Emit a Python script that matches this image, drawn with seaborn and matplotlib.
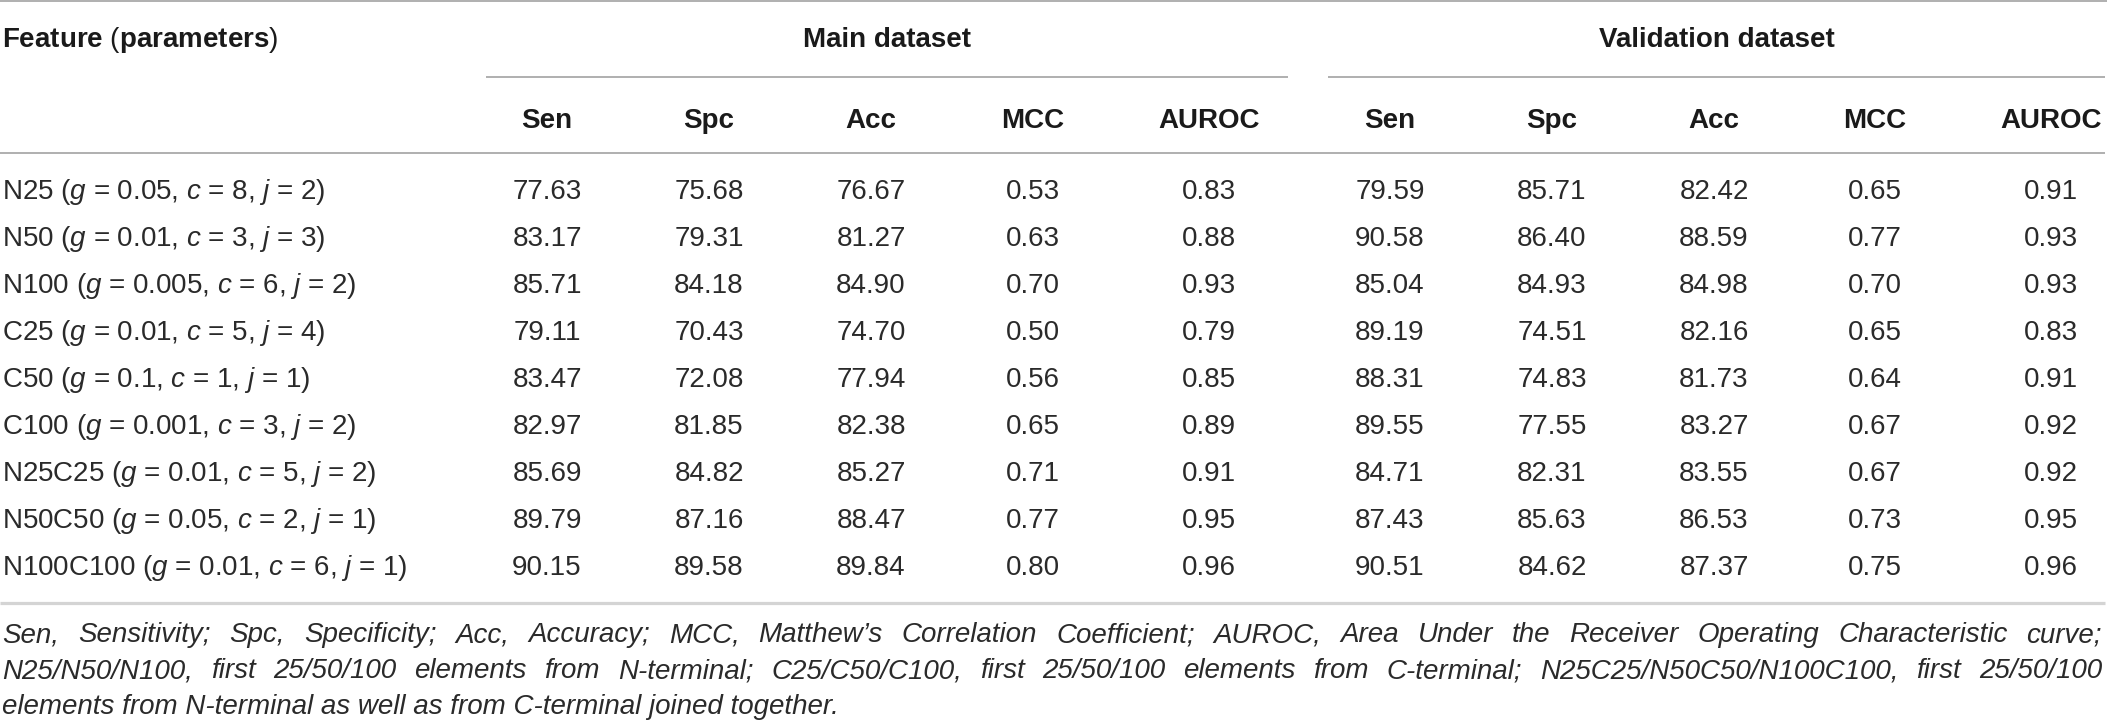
import matplotlib
matplotlib.use("Agg")
import matplotlib.pyplot as plt
import seaborn as sns
import pandas as pd

# ---------------- data ----------------
features = ["N25", "N50", "N100", "C25", "C50", "C100", "N25C25", "N50C50", "N100C100"]
param_g = ["0.05", "0.01", "0.005", "0.01", "0.1", "0.001", "0.01", "0.05", "0.01"]
param_c = [8, 3, 6, 5, 1, 3, 5, 2, 6]
param_j = [2, 3, 2, 4, 1, 2, 2, 1, 1]

main_sen = [77.63, 83.17, 85.71, 79.11, 83.47, 82.97, 85.69, 89.79, 90.15]
main_spc = [75.68, 79.31, 84.18, 70.43, 72.08, 81.85, 84.82, 87.16, 89.58]
main_acc = [76.67, 81.27, 84.90, 74.70, 77.94, 82.38, 85.27, 88.47, 89.84]
main_mcc = [0.53, 0.63, 0.70, 0.50, 0.56, 0.65, 0.71, 0.77, 0.80]
main_auroc = [0.83, 0.88, 0.93, 0.79, 0.85, 0.89, 0.91, 0.95, 0.96]

val_sen = [79.59, 90.58, 85.04, 89.19, 88.31, 89.55, 84.71, 87.43, 90.51]
val_spc = [85.71, 86.40, 84.93, 74.51, 74.83, 77.55, 82.31, 85.63, 84.62]
val_acc = [82.42, 88.59, 84.98, 82.16, 81.73, 83.27, 83.55, 86.53, 87.37]
val_mcc = [0.65, 0.77, 0.70, 0.65, 0.64, 0.67, 0.67, 0.73, 0.75]
val_auroc = [0.91, 0.93, 0.93, 0.83, 0.91, 0.92, 0.92, 0.95, 0.96]

metric_labels = ["Sen", "Spc", "Acc", "MCC", "AUROC"]
group_labels = ["Main dataset", "Validation dataset"]
first_header = r"$\mathbf{Feature}$ ($\mathbf{parameters}$)"

footnote_lines = [
    "Sen, Sensitivity; Spc, Specificity; Acc, Accuracy; MCC, Matthew\u2019s Correlation Coefficient; "
    "AUROC, Area Under the Receiver Operating Characteristic curve;",
    "N25/N50/N100, first 25/50/100 elements from N-terminal; C25/C50/C100, first 25/50/100 elements "
    "from C-terminal; N25C25/N50C50/N100C100, first 25/50/100",
    "elements from N-terminal as well as from C-terminal joined together.",
]

main_df = pd.DataFrame({"Sen": main_sen, "Spc": main_spc, "Acc": main_acc,
                        "MCC": main_mcc, "AUROC": main_auroc})
val_df = pd.DataFrame({"Sen": val_sen, "Spc": val_spc, "Acc": val_acc,
                       "MCC": val_mcc, "AUROC": val_auroc})

# ---------------- style ----------------
sns.set_theme(style="white")
plt.rcParams["font.family"] = ["Liberation Sans", "DejaVu Sans"]
plt.rcParams["mathtext.fontset"] = "custom"
plt.rcParams["mathtext.rm"] = "Liberation Sans"
plt.rcParams["mathtext.it"] = "Liberation Sans:italic"
plt.rcParams["mathtext.bf"] = "Liberation Sans:bold"

W, H = 2107, 721
FS = 20
TXT = "#2a2a2a"
HDR = "#1a1a1a"
RULE = "#9a9a9a"

fig = plt.figure(figsize=(W / 100, H / 100), dpi=100)
fig.patch.set_facecolor("white")
ax = fig.add_axes([0, 0, 1, 1])
ax.set_xlim(0, W)
ax.set_ylim(H, 0)
ax.axis("off")

# layout
main_x = [547, 709, 871, 1033, 1209]
val_x = [1390, 1552, 1714, 1875, 2051]
row_base0 = 199
row_step = 47

# rules
ax.plot([0, W], [1.2, 1.2], color=RULE, lw=1.1, solid_capstyle="butt")
ax.plot([486, 1288], [77, 77], color=RULE, lw=1.1, solid_capstyle="butt")
ax.plot([1328, 2105], [77, 77], color=RULE, lw=1.1, solid_capstyle="butt")
ax.plot([0, 2105], [153, 153], color=RULE, lw=1.1, solid_capstyle="butt")
ax.plot([0, 2105], [603, 603], color="#d4d4d4", lw=2.3, solid_capstyle="butt")

# headers
ax.text(2, 47, first_header, fontsize=FS, color=HDR, ha="left", va="baseline")
ax.text((486 + 1288) / 2, 47, group_labels[0], fontsize=FS, color=HDR,
        fontweight="bold", ha="center", va="baseline")
ax.text((1328 + 2105) / 2, 47, group_labels[1], fontsize=FS, color=HDR,
        fontweight="bold", ha="center", va="baseline")
for xs in (main_x, val_x):
    for x, lab in zip(xs, metric_labels):
        ax.text(x, 128, lab, fontsize=FS, color=HDR, fontweight="bold",
                ha="center", va="baseline")

# body
for i, name in enumerate(features):
    yb = row_base0 + i * row_step
    label = f"{name} ($g$ = {param_g[i]}, $c$ = {param_c[i]}, $j$ = {param_j[i]})"
    ax.text(2, yb, label, fontsize=FS, color=TXT, ha="left", va="baseline")
    for df, xs in ((main_df, main_x), (val_df, val_x)):
        for x, col in zip(xs, metric_labels):
            ax.text(x, yb, f"{df[col].iloc[i]:.2f}", fontsize=FS, color=TXT,
                    ha="center", va="baseline")

# footnote (justified)
renderer = fig.canvas.get_renderer()
foot_base = [642, 678, 714]
for k, line in enumerate(footnote_lines):
    if k < 2:
        words = line.split(" ")
        tx = [ax.text(0, foot_base[k], w, fontsize=FS, color=TXT, style="italic",
                      ha="left", va="baseline") for w in words]
        widths = [t.get_window_extent(renderer).width for t in tx]
        gap = (2102 - 2 - sum(widths)) / (len(words) - 1)
        x = 2
        for t, wd in zip(tx, widths):
            t.set_x(x)
            x += wd + gap
    else:
        ax.text(2, foot_base[k], line, fontsize=FS, color=TXT, style="italic",
                ha="left", va="baseline")

fig.savefig("out.png", dpi=100, facecolor="white")
